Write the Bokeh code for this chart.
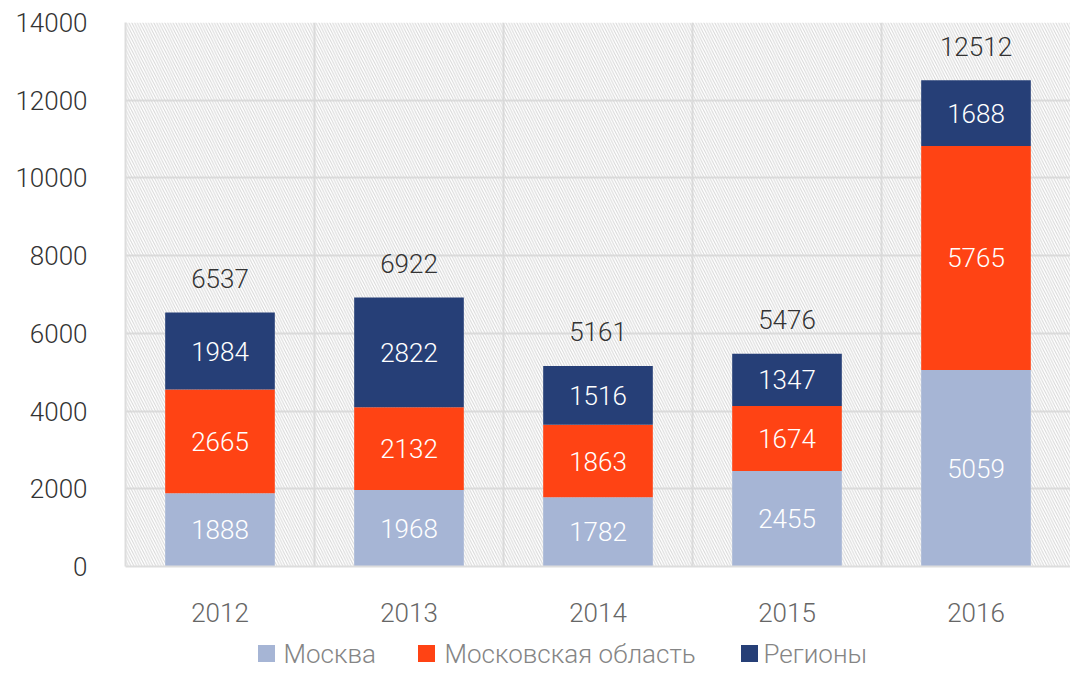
from bokeh.plotting import figure
from bokeh.layouts import column
from bokeh.models import (ColumnDataSource, Range1d, FixedTicker, SingleIntervalTicker,
                          BoxAnnotation)
from bokeh.core.properties import value
from bokeh.embed import file_html
from bokeh.resources import INLINE

years = ["2012", "2013", "2014", "2015", "2016"]
moscow = [1888, 1968, 1782, 2455, 5059]
oblast = [2665, 2132, 1863, 1674, 5765]
regions = [1984, 2822, 1516, 1347, 1688]
series_names = ["Москва", "Московская область", "Регионы"]
colors = ["#A6B5D5", "#FF4314", "#263F77"]

FONT = "'Roboto Light', Roboto"

xs = [i + 0.5 for i in range(len(years))]
totals = [a + b + c for a, b, c in zip(moscow, oblast, regions)]

src = ColumnDataSource(dict(x=xs, m=moscow, o=oblast, r=regions, total=totals))

p = figure(width=1070, height=628, output_backend="svg", toolbar_location=None,
           x_range=Range1d(0, 5), y_range=Range1d(0, 14000),
           min_border_left=125, min_border_right=0, min_border_top=22,
           min_border_bottom=62)
p.outline_line_color = None
p.background_fill_color = "white"

hatch = BoxAnnotation(left=0, right=5, bottom=0, top=14000, fill_alpha=0,
                      line_alpha=0, hatch_pattern="\\", hatch_color="#d6d6d6",
                      hatch_scale=5.5, hatch_weight=1, level="underlay")
p.add_layout(hatch)

rs = p.vbar_stack(["m", "o", "r"], x="x", width=0.58, color=colors, source=src,
                  line_color=None)

# segment labels
def mids(lower, vals):
    return [l + v / 2 for l, v in zip(lower, vals)]

zero = [0] * len(years)
lo1 = moscow
lo2 = [a + b for a, b in zip(moscow, oblast)]
lab_x = xs * 3
lab_y = mids(zero, moscow) + mids(lo1, oblast) + mids(lo2, regions)
lab_t = [str(v) for v in moscow + oblast + regions]
lsrc = ColumnDataSource(dict(x=lab_x, y=lab_y, t=lab_t))
p.text("x", "y", text="t", source=lsrc, text_align="center", text_baseline="middle",
       text_color="white", text_font=value(FONT), text_font_size="26px")

tsrc = ColumnDataSource(dict(x=xs, y=totals, t=[str(v) for v in totals]))
p.text("x", "y", text="t", source=tsrc, text_align="center", text_baseline="middle",
       text_color="#333333", text_font=value(FONT), text_font_size="26px",
       y_offset=-34)

# grids
p.xgrid.ticker = FixedTicker(ticks=list(range(len(years) + 1)))
p.xgrid.grid_line_color = "#dddddd"
p.xgrid.grid_line_width = 2
p.ygrid.ticker = SingleIntervalTicker(interval=2000)
p.ygrid.grid_line_color = "#dddddd"
p.ygrid.grid_line_width = 2

# axes
p.yaxis.ticker = SingleIntervalTicker(interval=2000)
p.yaxis.axis_line_color = "#dddddd"
p.yaxis.axis_line_width = 2
p.yaxis.major_tick_line_color = None
p.yaxis.minor_tick_line_color = None
p.yaxis.major_label_text_font = FONT
p.yaxis.major_label_text_font_size = "26px"
p.yaxis.major_label_text_color = "#333333"
p.yaxis.major_label_standoff = 32

p.xaxis.ticker = FixedTicker(ticks=xs)
p.xaxis.major_label_overrides = {x: y for x, y in zip(xs, years)}
p.xaxis.axis_line_color = "#dddddd"
p.xaxis.axis_line_width = 2
p.xaxis.major_tick_line_color = None
p.xaxis.minor_tick_line_color = None
p.xaxis.major_label_text_font = FONT
p.xaxis.major_label_text_font_size = "26px"
p.xaxis.major_label_text_color = "#666666"
p.xaxis.major_label_standoff = 30

# legend strip below the chart (pixel coordinates; frame aligned with chart frame)
lg = figure(width=1070, height=40, output_backend="svg", toolbar_location=None,
            x_range=Range1d(125, 1070), y_range=Range1d(0, 40),
            min_border_left=125, min_border_right=0, min_border_top=0, min_border_bottom=0)
lg.axis.visible = False
lg.grid.visible = False
lg.outline_line_color = None

swatch_x = [266, 426, 749]
text_x = [283, 444, 763]
lg.rect(x=swatch_x, y=[15] * 3, width=17, height=17, fill_color=colors, line_color=None)
lg.text(x=text_x, y=[15] * 3, text=series_names, text_align="left", text_baseline="middle",
        text_color="#858585", text_font=value(FONT), text_font_size="26px")

open("out.html", "w").write(file_html(column(p, lg, spacing=0), INLINE))
